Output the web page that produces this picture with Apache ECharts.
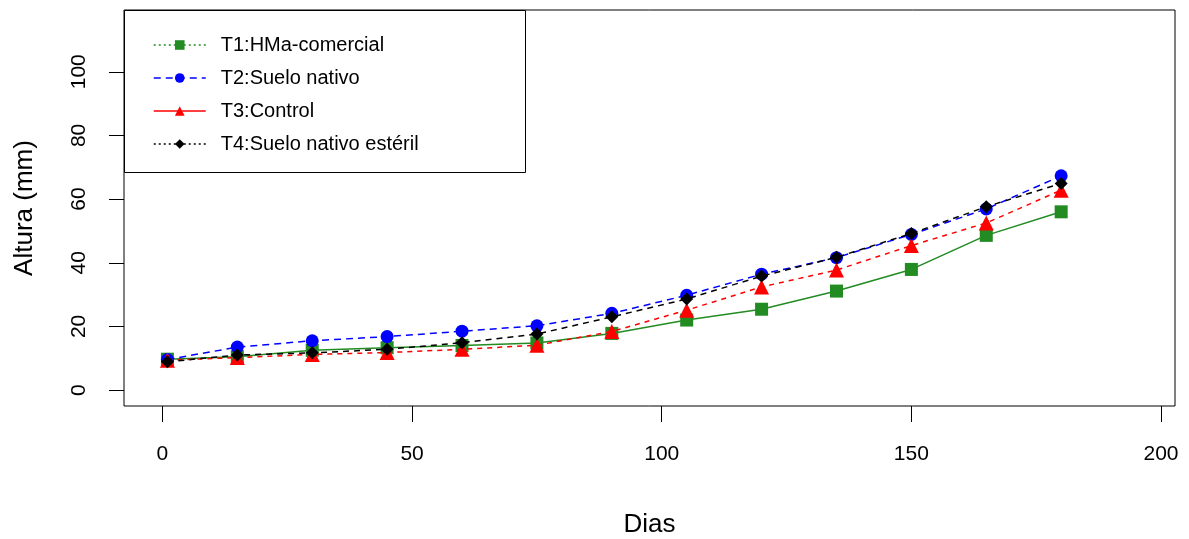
<!DOCTYPE html>
<html>
<head>
<meta charset="utf-8">
<script src="https://cdn.jsdelivr.net/npm/echarts@6/dist/echarts.min.js"></script>
<style>
html,body{margin:0;padding:0;background:#fff;}
#chart{width:1189px;height:539px;}
</style>
</head>
<body>
<div id="chart"></div>
<script>
const days = [1, 15, 30, 45, 60, 75, 90, 105, 120, 135, 150, 165, 180];
const t1 = [9.7, 10.5, 12.5, 13.3, 14.0, 14.8, 17.8, 22.0, 25.4, 31.1, 37.9, 48.6, 56.0];
const t2 = [9.6, 13.5, 15.5, 16.8, 18.5, 20.2, 24.1, 29.8, 36.4, 41.6, 48.9, 56.9, 67.3];
const t3 = [9.4, 10.2, 11.2, 11.8, 12.8, 14.1, 18.4, 25.1, 32.4, 37.7, 45.4, 52.5, 62.8];
const t4 = [8.9, 11.0, 11.7, 12.8, 14.9, 17.6, 23.0, 28.6, 35.8, 41.7, 49.2, 57.6, 64.9];
const seriesNames = ['T1:HMa-comercial', 'T2:Suelo nativo', 'T3:Control', 'T4:Suelo nativo estéril'];
const xTicks = [0, 50, 100, 150, 200];
const yTicks = [0, 20, 40, 60, 80, 100];
const xTitle = 'Dias';
const yTitle = 'Altura (mm)';

const FONT = 'Liberation Sans';
const tickSize = 21;
const titleSize = 26;
const legendSize = 20;

function pairs(vals) { return days.map((d, i) => [d, vals[i]]); }

const styles = [
  { color: '#228B22', symbol: 'rect', size: 13, line: 'solid', legendLine: [2, 3] },
  { color: '#0000FF', symbol: 'circle', size: 13, line: [7, 5], legendLine: [7, 5] },
  { color: '#FF0000', symbol: 'triangle', size: 15, line: [5, 5], legendLine: 'solid' },
  { color: '#000000', symbol: 'diamond', size: 13, line: [6, 5], legendLine: [2, 3] }
];
const allVals = [t1, t2, t3, t4];

const chart = echarts.init(document.getElementById('chart'), null, { renderer: 'canvas' });
chart.setOption({
  backgroundColor: '#ffffff',
  animation: false,
  textStyle: { fontFamily: FONT },
  grid: { left: 124, right: 14, top: 10, bottom: 133, outerBoundsMode: 'none', containLabel: false, show: true, borderColor: '#000', borderWidth: 1, backgroundColor: 'transparent' },
  graphic: [{
    type: 'rect', left: 124, top: 10, z: 50,
    shape: { width: 401, height: 162 },
    style: { fill: '#fff', stroke: '#000', lineWidth: 1 }
  }],
  legend: {
    orient: 'vertical', left: 148, top: 29, z: 60,
    itemWidth: 52, itemHeight: 12, itemGap: 11,
    textStyle: { fontFamily: FONT, fontSize: legendSize, color: '#000', lineHeight: 22, padding: [0, 0, 0, 10] },
    data: seriesNames.map((n, i) => ({
      name: n,
      lineStyle: { type: styles[i].legendLine, width: 1.5, color: styles[i].color },
      itemStyle: { color: styles[i].color }
    }))
  },
  xAxis: {
    type: 'value', min: -7.7, max: 202.8,
    name: xTitle, nameLocation: 'middle', nameGap: 106,
    nameTextStyle: { fontFamily: FONT, fontSize: titleSize, color: '#000' },
    axisLine: { show: false, onZero: false },
    splitLine: { show: false },
    axisTick: { show: true, inside: false, length: 16, customValues: xTicks, lineStyle: { color: '#000' } },
    axisLabel: { customValues: xTicks, margin: 38, fontFamily: FONT, fontSize: tickSize, color: '#000' }
  },
  yAxis: {
    type: 'value', min: -5, max: 119.4,
    name: yTitle, nameLocation: 'middle', nameGap: 86,
    nameTextStyle: { fontFamily: FONT, fontSize: titleSize, color: '#000' },
    axisLine: { show: false, onZero: false },
    splitLine: { show: false },
    axisTick: { show: true, inside: false, length: 15, customValues: yTicks, lineStyle: { color: '#000' } },
    axisLabel: { customValues: yTicks, rotate: 90, margin: 34, fontFamily: FONT, fontSize: tickSize, color: '#000' }
  },
  series: seriesNames.map((n, i) => ({
    name: n, type: 'line',
    data: pairs(allVals[i]),
    symbol: styles[i].symbol, symbolSize: styles[i].size,
    showAllSymbol: true,
    lineStyle: { color: styles[i].color, width: 1.5, type: styles[i].line },
    itemStyle: { color: styles[i].color, borderWidth: 0 },
    z: 2 + i
  }))
});
</script>
</body>
</html>
